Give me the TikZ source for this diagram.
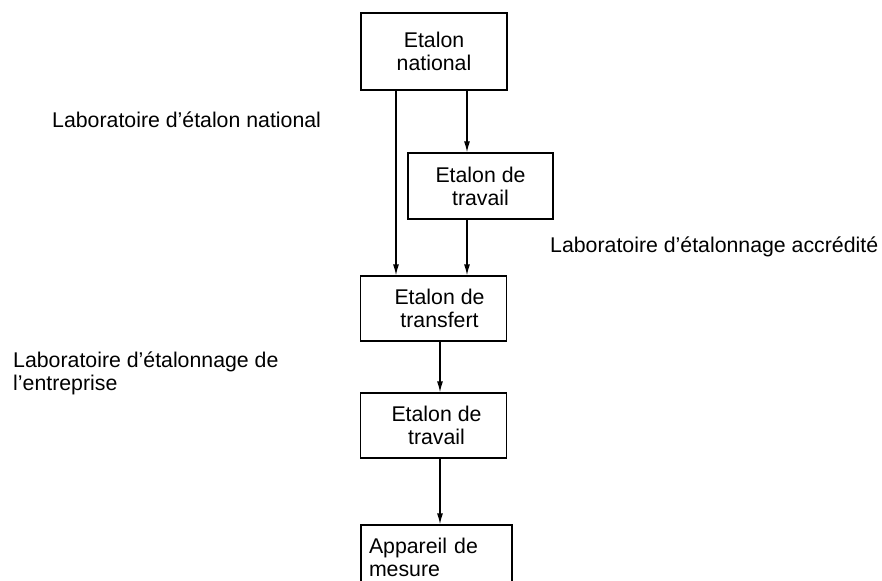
\documentclass[tikz,border=0pt]{standalone}
\usepackage{fontspec}
\setmainfont{Liberation Sans}
\usetikzlibrary{arrows.meta,positioning}

\tikzset{
  etalon/.style={draw, line width=1.3pt, align=center, inner sep=0pt,
    minimum width=146pt, minimum height=65pt},
  labo/.style={inner sep=0pt, align=left},
  lien/.style={-{Latex[length=11pt,width=6pt]}, line width=1.3pt}
}

\begin{document}
\begin{tikzpicture}[x=1pt,y=-1pt,
  every node/.style={font=\fontsize{21.3}{23}\selectfont}]
\clip (0,0) rectangle (882,580);
% chaine des etalons
\node[etalon, minimum height=77pt] (natl) at (434,51.5) {Etalon\\national};
\node[etalon, minimum width=145pt, minimum height=66pt] (trav1) at (480.5,186) {Etalon de\\travail};
\node[etalon] (trf) at (433.5,308.5) {\hspace*{12pt}Etalon de\\\hspace*{12pt}transfert};
\node[etalon] (trav2) at (433.5,425.5) {\hspace*{6pt}Etalon de\\\hspace*{6pt}travail};
\node[etalon, minimum width=151pt, align=left, text width=135pt] (app) at (436.5,557.5) {Appareil de\\mesure};
%
% laboratoires
\node[labo, anchor=base west] (labnat) at (52,128) {Laboratoire d’étalon national};
\node[labo, anchor=base west] (labacc) at (550,252) {Laboratoire d’étalonnage accrédité};
\node[labo, anchor=north west] (labent) at (13,352) {Laboratoire d’étalonnage de\\l’entreprise};
%
\draw[lien] ([xshift=-38pt]natl.south) -- ([xshift=-38pt]natl.south |- trf.north);
\draw[lien] ([xshift=33pt]natl.south) -- ([xshift=33pt]natl.south |- trav1.north);
\draw[lien] ([xshift=-13.5pt]trav1.south) -- ([xshift=-13.5pt]trav1.south |- trf.north);
\draw[lien] ([xshift=6.5pt]trf.south) -- ([xshift=6.5pt]trav2.north);
\draw[lien] ([xshift=6.5pt]trav2.south) -- ([xshift=3.5pt]app.north);
\end{tikzpicture}
\end{document}
